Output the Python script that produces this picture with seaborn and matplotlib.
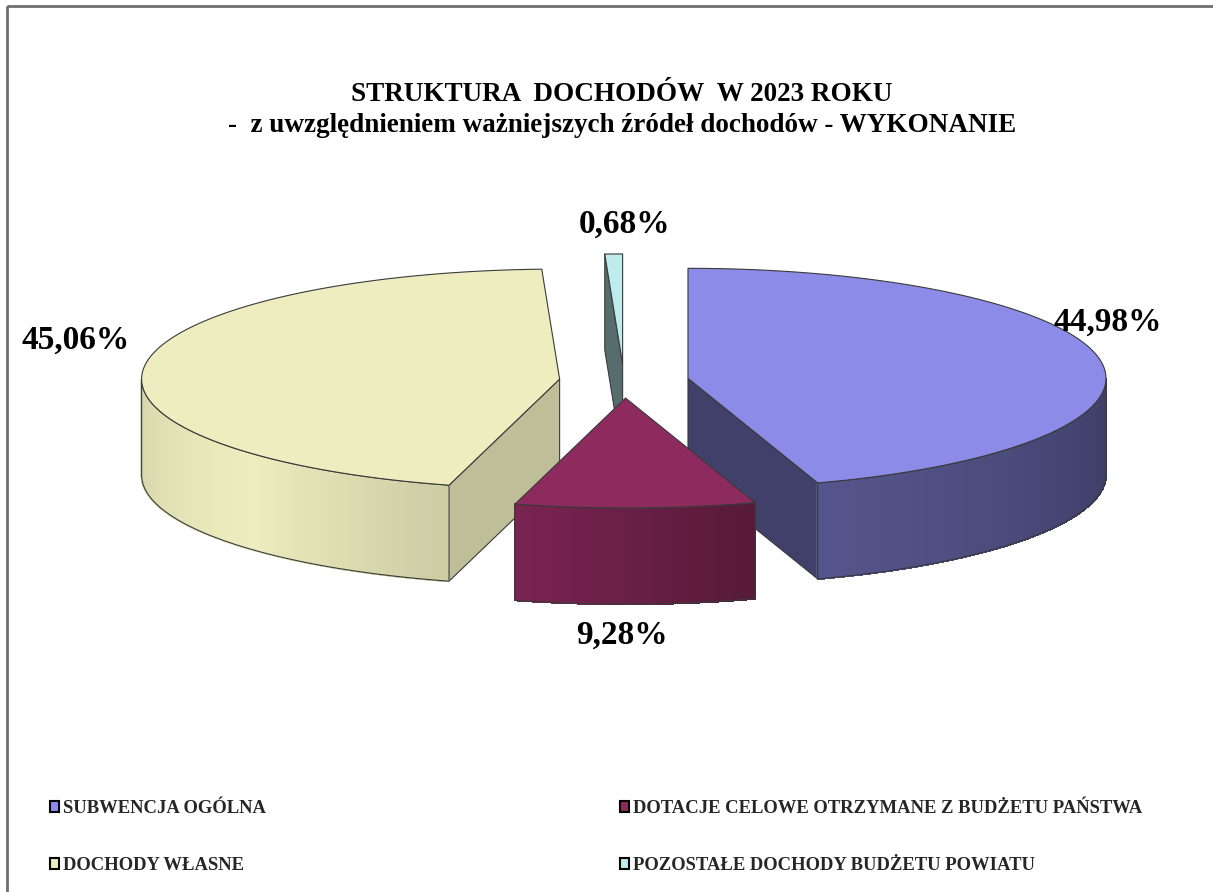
import numpy as np
import matplotlib
matplotlib.use("Agg")
import matplotlib.pyplot as plt
from matplotlib.patches import Polygon, Patch, Rectangle
import seaborn as sns

# ---- data ----
categories = ["SUBWENCJA OGÓLNA",
              "DOTACJE CELOWE OTRZYMANE Z BUDŻETU PAŃSTWA",
              "DOCHODY WŁASNE",
              "POZOSTAŁE DOCHODY BUDŻETU POWIATU"]
values = [44.98, 9.28, 45.06, 0.68]
value_labels = ["44,98%", "9,28%", "45,06%", "0,68%"]
title_text = ("STRUKTURA  DOCHODÓW  W 2023 ROKU\n"
              "-  z uwzględnieniem ważniejszych źródeł dochodów - WYKONANIE")

# ---- style ----
top_colors = sns.color_palette(["#8C8CE8", "#8D2A5E", "#EDEDBF", "#BEEBEB"])
label_pos = [(1108, 322), (622, 635), (76, 340), (625, 224)]
legend_order = [0, 2, 1, 3]
edge_col = "#3a3a3a"

sns.set_theme(style="white")
plt.rcParams['font.family'] = ['Liberation Serif', 'DejaVu Serif']
plt.rcParams['font.weight'] = 'bold'

W, H = 1213, 892
fig = plt.figure(figsize=(W / 100, H / 100), dpi=100)
fig.patch.set_facecolor("white")
ax = fig.add_axes([0, 0, 1, 1])
ax.set_xlim(0, W)
ax.set_ylim(H, 0)
ax.axis('off')

# frame (only top/left visible in the reference)
ax.add_patch(Rectangle((7, 6), W + 20, H + 20, fill=False,
                       edgecolor="#6e6e6e", lw=2, clip_on=False))

cx, cy, rx, ry, depth, explode = 624, 381, 418, 110, 96, 0.155
fr = np.array(values) / np.sum(values)
ends = np.cumsum(fr) * 360.0
starts = ends - fr * 360.0

wall_nodes = [90, 162, 195, 228, 270]
wall_fact = [0.43, 0.61, 0.86, 1.0, 0.90]


def pt(theta_deg, apex, dz=0.0):
    t = np.radians(theta_deg)
    return np.column_stack([apex[0] + rx * np.sin(t),
                            apex[1] - ry * np.cos(t) + dz])


def shade(col, f):
    return tuple(np.clip(np.array(col[:3]) * f, 0, 1))


slices = []
for i, (a0, a1) in enumerate(zip(starts, ends)):
    mid = np.radians((a0 + a1) / 2)
    apex = (cx + explode * rx * np.sin(mid), cy - explode * ry * np.cos(mid))
    slices.append((apex[1], i, a0, a1, apex))

for _, i, a0, a1, apex in sorted(slices):
    col = top_colors[i]
    # cut faces
    for th, nrm in ((a0, a0 - 90), (a1, a1 + 90)):
        if np.cos(np.radians(nrm)) < -0.01:
            e = pt(np.array([th]), apex)[0]
            poly = np.array([apex, e, e + [0, depth], [apex[0], apex[1] + depth]])
            f = 0.46 if np.sin(np.radians(nrm)) < 0 else 0.80
            ax.add_patch(Polygon(poly, closed=True, facecolor=shade(col, f),
                                 edgecolor=edge_col, lw=0.8, joinstyle='round'))
    # outer wall with horizontal gradient
    w0, w1 = max(a0, 90), min(a1, 270)
    if w1 > w0:
        th = np.linspace(w0, w1, 80)
        topp = pt(th, apex)
        botp = pt(th, apex, depth)
        for k in range(len(th) - 1):
            f = np.interp((th[k] + th[k + 1]) / 2, wall_nodes, wall_fact)
            quad = np.array([topp[k], topp[k + 1], botp[k + 1], botp[k]])
            c = shade(col, f)
            ax.add_patch(Polygon(quad, closed=True, facecolor=c, edgecolor=c,
                                 lw=1.0, antialiased=False))
        outline = np.vstack([topp, botp[::-1]])
        ax.add_patch(Polygon(outline, closed=True, fill=False,
                             edgecolor=edge_col, lw=0.8))
    # top face
    th = np.linspace(a0, a1, 200)
    poly = np.vstack([[apex], pt(th, apex)])
    ax.add_patch(Polygon(poly, closed=True, facecolor=col,
                         edgecolor=edge_col, lw=0.8, joinstyle='round'))

# value labels
for lab, (x, y) in zip(value_labels, label_pos):
    ax.text(x, y, lab, ha='center', va='center', fontsize=24,
            fontweight='bold', color='black')

# title
ax.text(622, 110, title_text, ha='center', va='center', fontsize=19.5,
        fontweight='bold', linespacing=1.3, color='black')

# legend
handles = [Patch(facecolor=top_colors[i], edgecolor='black', lw=1.5)
           for i in legend_order]
labels = [categories[i] for i in legend_order]
leg = ax.legend(handles, labels, ncol=2, loc='upper left',
                bbox_to_anchor=(50 / W, 1 - 800 / H), frameon=False,
                prop={'family': 'Liberation Serif', 'weight': 'bold', 'size': 13.4},
                handlelength=0.5, handleheight=0.5, handletextpad=0.2,
                labelspacing=2.15, columnspacing=19.0, borderpad=0, borderaxespad=0)

fig.savefig("out.png", dpi=100, facecolor="white")
